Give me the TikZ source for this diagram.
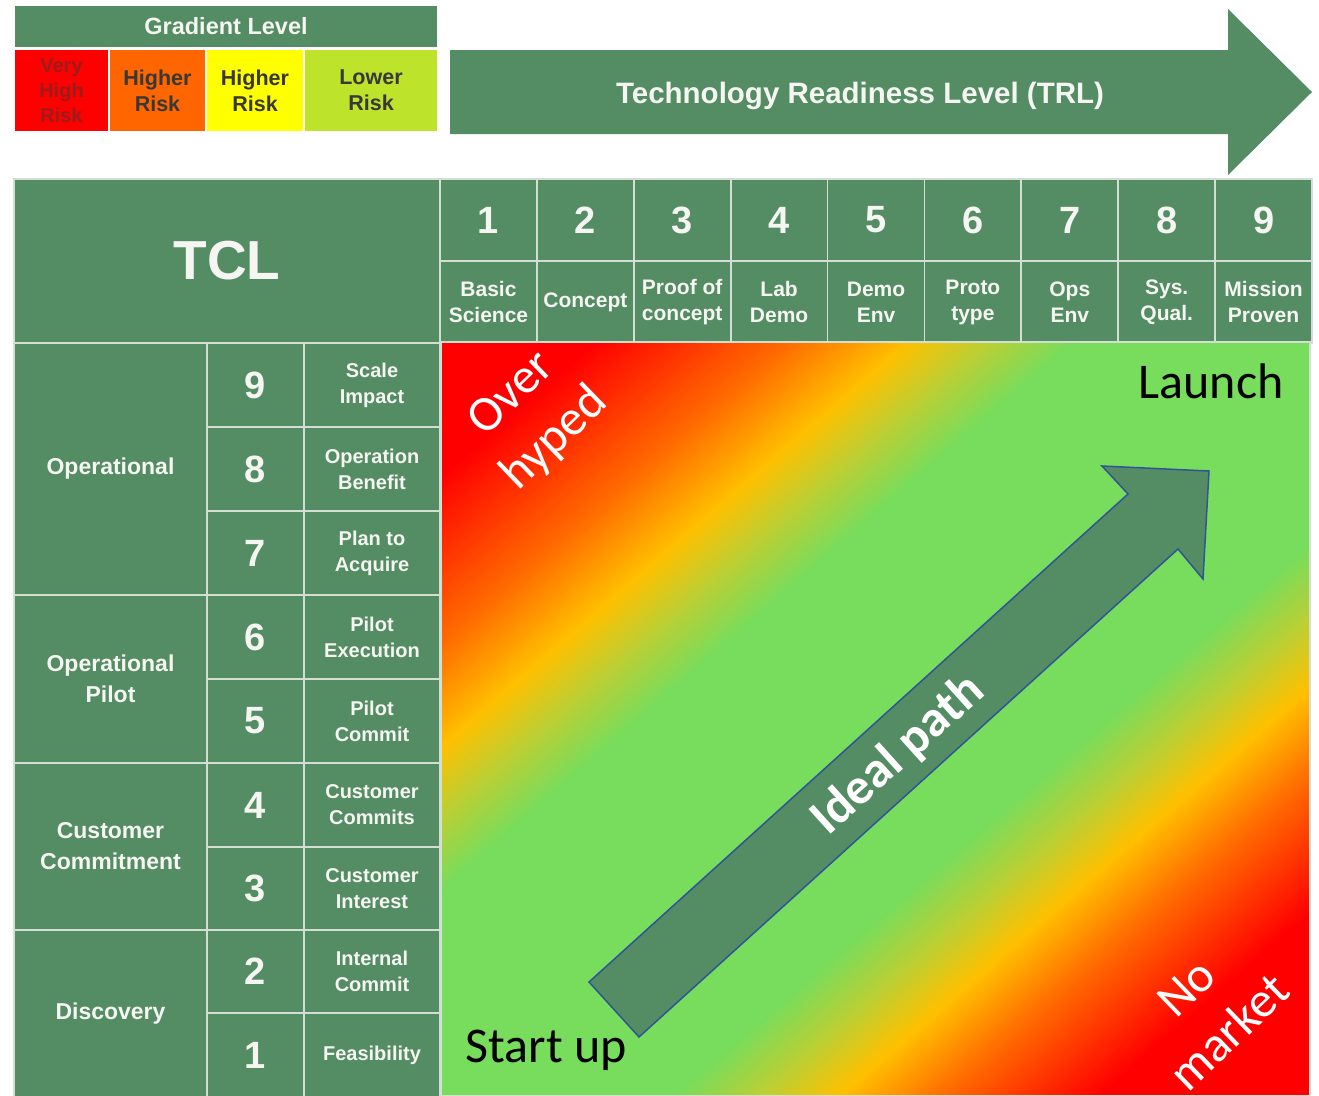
\documentclass[tikz,border=0pt]{standalone}
\usepackage{fontspec}
\setmainfont{Liberation Sans}
\newfontfamily\calfont{Carlito}
\definecolor{tgreen}{HTML}{548C64}
\definecolor{gridc}{HTML}{D2DFD2}
\definecolor{txtw}{HTML}{F5F5F2}
\definecolor{arrblue}{HTML}{2F5597}
\definecolor{lgRed}{HTML}{FF0000}
\definecolor{lgOra}{HTML}{FF6600}
\definecolor{lgYel}{HTML}{FFFF00}
\definecolor{lgLime}{HTML}{BEE32B}
\definecolor{gRed}{HTML}{FF0000}
\definecolor{gOra}{HTML}{FF6A00}
\definecolor{gGold}{HTML}{FFC000}
\definecolor{gYG}{HTML}{BDCF33}
\definecolor{gGrn}{HTML}{78DC5C}
\definecolor{darktxt}{HTML}{383838}
\definecolor{redtxt}{HTML}{9A1C1C}
\newcommand{\cellbox}[7][]{\node[cell,minimum width={#5-#3},minimum height={#6-#4},#1] (#2) at ({(#3+#5)/2},{(#4+#6)/2}) {#7};}
\tikzset{
 cell/.style={draw=gridc, line width=1.8pt, fill=tgreen, text=txtw, align=center, inner sep=0pt, outer sep=0pt},
 numf/.style={font=\bfseries\fontsize{38}{44}\selectfont},
 labf/.style={font=\bfseries\fontsize{21}{26}\selectfont},
 rowf/.style={font=\bfseries\fontsize{20}{26}\selectfont},
 grpf/.style={font=\bfseries\fontsize{23}{31}\selectfont},
 legf/.style={font=\bfseries\fontsize{21.5}{26}\selectfont, text=darktxt, draw=white, line width=1.2pt},
 caltxt/.style={font=\calfont\fontsize{50}{62}\selectfont},
}
\begin{document}
\begin{tikzpicture}[x=1pt,y=-1pt]
\fill[white] (0,0) rectangle (1319,1095);
\useasboundingbox (0,0) rectangle (1319,1095);
% legend
\cellbox[font=\bfseries\fontsize{23.5}{28}\selectfont, draw=white, line width=1.2pt]{leghead}{14}{5}{438}{48}{Gradient Level}
\cellbox[legf, fill=lgRed, text=redtxt, font=\bfseries\fontsize{20}{25}\selectfont]{legvh}{14}{49}{109}{132}{Very\\High\\Risk}
\cellbox[legf, fill=lgOra]{legho}{109}{49}{206}{132}{Higher\\Risk}
\cellbox[legf, fill=lgYel]{leghy}{206}{49}{304}{132}{Higher\\Risk}
\cellbox[legf, fill=lgLime]{leglo}{304}{49}{438}{132}{Lower\\Risk}
% TRL arrow
\fill[tgreen] (450,50) -- (1228,50) -- (1228,9) -- (1312,92) -- (1228,175) -- (1228,134) -- (450,134) -- cycle;
\node[anchor=base, text=txtw, font=\bfseries\fontsize{29.5}{34}\selectfont] (trltext) at (860,103) {Technology Readiness Level (TRL)};
% main table
\cellbox[font=\bfseries\fontsize{55}{60}\selectfont]{tcl}{14}{179}{440}{343}{TCL}
\foreach \i/\lab in {1/{Basic\\Science}, 2/{Concept}, 3/{Proof of\\concept}, 4/{Lab\\Demo}, 5/{Demo\\Env}, 6/{Proto\\type}, 7/{Ops\\Env}, 8/{Sys.\\Qual.}, 9/{Mission\\Proven}}{
  \pgfmathsetmacro\xa{440+(\i-1)*96.89}
  \pgfmathsetmacro\xb{440+\i*96.89}
  \cellbox[numf]{trl\i}{\xa}{179}{\xb}{261}{\i}
  \cellbox[labf]{trllab\i}{\xa}{261}{\xb}{343}{\lab}
}
\foreach \n/\ya/\yb/\lab in {9/343/427/{Scale\\Impact}, 8/427/511/{Operation\\Benefit}, 7/511/595/{Plan to\\Acquire}, 6/595/679/{Pilot\\Execution}, 5/679/763/{Pilot\\Commit}, 4/763/847/{Customer\\Commits}, 3/847/930/{Customer\\Interest}, 2/930/1013/{Internal\\Commit}, 1/1013/1097/{Feasibility}}{
  \cellbox[numf]{tcl\n}{207}{\ya}{304}{\yb}{\n}
  \cellbox[rowf]{tcllab\n}{304}{\ya}{440}{\yb}{\lab}
}
\cellbox[grpf]{grpop}{14}{343}{207}{595}{Operational}
\cellbox[grpf]{grppilot}{14}{595}{207}{763}{Operational\\Pilot}
\cellbox[grpf]{grpcust}{14}{763}{207}{930}{Customer\\Commitment}
\cellbox[grpf]{grpdisc}{14}{930}{207}{1097}{Discovery}
% gradient field: isolines parallel to the rising diagonal, t = u/W + v/H (in thousandths)
\begin{scope}
\clip (441,341) rectangle (1310,1096);
\foreach \sA/\sB/\cA/\cB in {0/180/gRed/gRed, 180/400/gRed/gOra, 400/540/gOra/gGold, 540/630/gGold/gYG, 630/730/gYG/gGrn, 730/1270/gGrn/gGrn, 1270/1370/gGrn/gYG, 1370/1460/gYG/gGold, 1460/1580/gGold/gOra, 1580/1760/gOra/gRed, 1760/2010/gRed/gRed}{
  \pgfmathtruncatemacro\gradN{int((\sB-\sA)/4)}
  \pgfmathsetmacro\gradStep{(\sB-\sA)/\gradN}
  \foreach \k in {1,...,\gradN}{
    \pgfmathsetmacro\gradPa{441+(\sA+(\k-1)*\gradStep)*0.869}
    \pgfmathsetmacro\gradPb{441+(\sA+\k*\gradStep)*0.869+1.5}
    \pgfmathtruncatemacro\gradPc{round((\k-0.5)/\gradN*100)}
    \fill[\cB!\gradPc!\cA] (\gradPa,341) -- (\gradPb,341) -- ({\gradPb-1738},1849) -- ({\gradPa-1738},1849) -- cycle;
  }
}
\end{scope}
\draw[gridc, line width=1.5pt] (441,342) rectangle (1310,1096);
% ideal path arrow
\filldraw[fill=tgreen, draw=arrblue, line width=1.5pt, line join=miter] (589,982) -- (1128,494) -- (1102,466) -- (1209,471) -- (1203,579) -- (1178,549) -- (639,1037) -- cycle;
\node[rotate=42, text=white, font=\calfont\bfseries\fontsize{51}{60}\selectfont] (ideal) at (898,755) {Ideal path};
\node[caltxt, anchor=base east] (launch) at (1287,398) {Launch};
\node[caltxt, anchor=base west] (startup) at (462,1062) {Start up};
\node[caltxt, text=white, rotate=44, align=center] (overhyped) at (534,417) {Over\\hyped};
\node[caltxt, text=white, rotate=44, align=center] (nomarket) at (1208,1010) {No\\market};
\end{tikzpicture}
\end{document}
